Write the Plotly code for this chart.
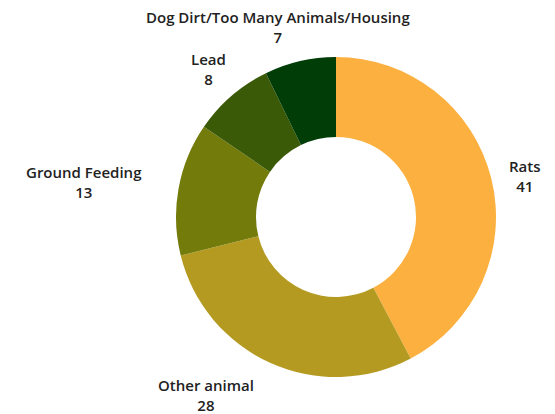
import math
import plotly.graph_objects as go

labels = ["Rats", "Other animal", "Ground Feeding", "Lead", "Dog Dirt/Too Many Animals/Housing"]
values = [41, 28, 13, 8, 7]
colors = ["#FBB040", "#B59A22", "#737B0B", "#3B5A08", "#003D07"]
label_anchor = ["center", "right", "right", "center", "center"]
label_xshift = [0, 0, 0, 0, -14]
label_yshift = [-6, 0, 0, 0, 0]

W, H = 555, 414
cx, cy, r = 336, 217, 160
label_r = 195

fig = go.Figure(go.Pie(
    labels=labels,
    values=values,
    hole=0.5,
    sort=False,
    direction="clockwise",
    rotation=0,
    marker=dict(colors=colors, line=dict(width=0)),
    textinfo="none",
    hoverinfo="label+value",
    showlegend=False,
    domain=dict(x=[(cx - r) / W, (cx + r) / W], y=[(H - cy - r) / H, (H - cy + r) / H]),
))

total = sum(values)
cum = 0
for lab, val, anc, xs, ys in zip(labels, values, label_anchor, label_xshift, label_yshift):
    mid = (cum + val / 2) / total * 2 * math.pi
    cum += val
    px = cx + label_r * math.sin(mid)
    py = cy - label_r * math.cos(mid)
    fig.add_annotation(
        x=px / W, y=1 - py / H, xref="paper", yref="paper",
        text=f"{lab}<br>{val}", showarrow=False,
        xanchor=anc, yanchor="middle", align="center",
        xshift=xs, yshift=ys,
        font=dict(family="Open Sans, sans-serif", size=15, color="#222222", weight=600),
    )

fig.update_layout(
    width=W, height=H,
    margin=dict(l=0, r=0, t=0, b=0),
    paper_bgcolor="white",
    plot_bgcolor="white",
)
fig.write_html(
    "out.html",
    config={"displayModeBar": False},
    post_script="document.body.style.margin='0';document.body.style.overflow='hidden';",
)
